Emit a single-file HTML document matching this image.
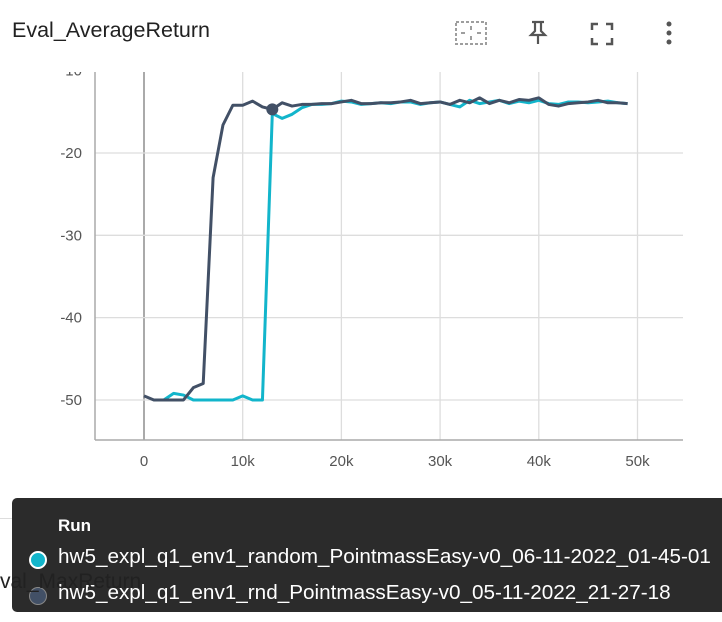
<!DOCTYPE html>
<html><head><meta charset="utf-8"><style>
body{margin:0;width:722px;height:622px;overflow:hidden;background:#fff;font-family:"Liberation Sans",Arial,sans-serif;position:relative}
.title{position:absolute;left:12px;top:18px;font-size:21.5px;color:#212121;z-index:2}
.tt{position:absolute;left:12px;top:498px;width:720px;height:114px;background:#2b2b2b;border-radius:5px;color:#fff}
</style></head><body>
<svg id="chart" style="position:absolute;left:0;top:0" width="722" height="500"></svg>
<div class="title">Eval_AverageReturn</div>
<svg style="position:absolute;left:440px;top:12px;z-index:2" width="280" height="44">
 <g stroke="#9e9e9e" fill="none" stroke-width="2"><rect x="16" y="10" width="30" height="22" stroke-dasharray="3 2"/><path d="M31 14v4M31 24v4M21 21h4M37 21h4"/></g>
 <g stroke="#555" fill="none" stroke-width="2.2"><path d="M92 10h12M95 10v9l-4 4h14l-4-4v-9M98 23v9"/></g>
 <g stroke="#555" fill="none" stroke-width="2.5"><path d="M152 18v-6h6M166 12h6v6M172 26v6h-6M158 32h-6v-6"/></g>
 <g fill="#555"><circle cx="229" cy="12" r="2.5"/><circle cx="229" cy="21" r="2.5"/><circle cx="229" cy="30" r="2.5"/></g>
</svg>
<div style="position:absolute;left:0;top:518px;width:722px;border-top:1px solid #ddd"></div>
<div class="tt">
 <div style="position:absolute;left:46px;top:18px;font-weight:bold;font-size:17px">Run</div>
 <div style="position:absolute;left:17px;top:53px;width:14px;height:14px;border-radius:50%;background:#12b5cb;border:2px solid #fff"></div>
 <div style="position:absolute;left:46px;top:47px;font-size:20.7px;white-space:nowrap">hw5_expl_q1_env1_random_PointmassEasy-v0_06-11-2022_01-45-01</div>
 <div style="position:absolute;left:17px;top:89px;width:16px;height:16px;border-radius:50%;background:#425066;border:1px solid #888"></div>
 <div style="position:absolute;left:46px;top:83px;font-size:20.7px;white-space:nowrap">hw5_expl_q1_env1_rnd_PointmassEasy-v0_05-11-2022_21-27-18</div>
</div>
<div style="position:absolute;left:-14px;top:570px;font-size:21px;color:#212121;z-index:3">Eval_MaxReturn</div>
<script>
const steps=[0,1,2,3,4,5,6,7,8,9,10,11,12,13,14,15,16,17,18,19,20,21,22,23,24,25,26,27,28,29,30,31,32,33,34,35,36,37,38,39,40,41,42,43,44,45,46,47,48,49];
const rndValues=[-49.5,-50,-50,-50,-50,-48.5,-48,-23,-16.6,-14.2,-14.2,-13.7,-14.4,-14.7,-13.9,-14.3,-14.1,-14.1,-14,-14,-13.8,-13.6,-14,-14,-13.9,-13.9,-13.8,-13.6,-14,-13.9,-13.8,-14.1,-13.6,-13.9,-13.3,-14,-13.6,-13.9,-13.5,-13.6,-13.3,-14.1,-14.3,-14,-13.9,-13.8,-13.6,-13.9,-13.9,-14];
const randomSteps=[2,3,4,5,6,7,8,9,10,11,12,13,14,15,16,17,18,19,20,21,22,23,24,25,26,27,28,29,30,31,32,33,34,35,36,37,38,39,40,41,42,43,44,45,46,47,48,49];
const randomValues=[-50,-49.2,-49.4,-50,-50,-50,-50,-50,-49.5,-50,-50,-15.2,-15.8,-15.3,-14.5,-14.1,-14.1,-14,-13.7,-13.8,-14.1,-14,-13.9,-14,-13.8,-13.8,-14.1,-13.9,-13.8,-14.1,-14.4,-13.6,-14,-13.8,-13.6,-14,-13.7,-13.9,-13.6,-14,-14.1,-13.8,-13.8,-13.9,-13.8,-13.7,-13.9,-14];
const xTicks=[0,10,20,30,40,50];
const yTicks=[-50,-40,-30,-20,-10];
const X=v=>144+v*9.87, Y=v=>153+(-20-v)*8.233;
const svg=document.getElementById('chart'),NS='http://www.w3.org/2000/svg';
function mk(t,a){const e=document.createElementNS(NS,t);for(const k in a)e.setAttribute(k,a[k]);svg.appendChild(e);return e;}
const L=95,R=683,T=72,B=440;
xTicks.forEach(t=>{const g=mk('line',{x1:X(t),x2:X(t),y1:T,y2:B,stroke:t===0?'#aaa':'#ddd','stroke-width':t===0?2:1.3});

const l=mk('text',{x:X(t),y:466,'text-anchor':'middle','font-size':15,fill:'#555','font-family':'Liberation Sans'});l.textContent=t===0?'0':t+'k';
});
yTicks.forEach(t=>{const g=mk('line',{x1:L,x2:R,y1:Y(t),y2:Y(t),stroke:'#ddd','stroke-width':1.3});

const l=mk('text',{x:82,y:Y(t)+5,'text-anchor':'end','font-size':15,fill:'#555','font-family':'Liberation Sans'});l.textContent=t;
});
mk('rect',{x:0,y:0,width:722,height:T,fill:'#fff'});
const ax=mk('line',{x1:L,x2:L,y1:T,y2:B,stroke:'#aaa','stroke-width':1.5});
const bx=mk('line',{x1:L,x2:R,y1:B,y2:B,stroke:'#aaa','stroke-width':1.5});
const p1=mk('polyline',{points:randomSteps.map((s,i)=>X(s)+','+Y(randomValues[i])).join(' '),fill:'none',stroke:'#12b5cb','stroke-width':3,'stroke-linejoin':'round'});

const p2=mk('polyline',{points:steps.map((s,i)=>X(s)+','+Y(rndValues[i])).join(' '),fill:'none',stroke:'#425066','stroke-width':3,'stroke-linejoin':'round'});

const c=mk('circle',{cx:X(13),cy:Y(rndValues[13]),r:6,fill:'#425066'});

</script>
</body></html>
